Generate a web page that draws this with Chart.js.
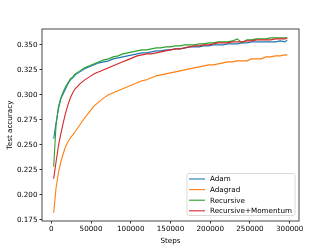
<!DOCTYPE html>
<html>
<head>
<meta charset="utf-8">
<script src="https://cdn.jsdelivr.net/npm/chart.js@4.4.0/dist/chart.umd.min.js"></script>
<style>
  html, body { margin: 0; padding: 0; background: #fff; }
  #wrap { width: 332px; height: 249px; position: relative; }
</style>
</head>
<body>
<div id="wrap"><canvas id="acc-chart" width="332" height="249"></canvas></div>
<script>
// --- data ---
const steps = [3000, 6000, 9000, 12000, 15000, 18000, 21000, 24000, 27000, 30000,
  36000, 42000, 48000, 54000, 60000, 66000, 72000, 78000, 84000, 90000,
  96000, 102000, 108000, 114000, 120000, 126000, 132000, 138000, 144000, 150000,
  156000, 162000, 168000, 174000, 180000, 186000, 192000, 198000, 204000, 210000,
  216000, 222000, 228000, 234000, 240000, 246000, 252000, 258000, 264000, 270000,
  276000, 282000, 288000, 294000, 297000];

const adam = [0.256, 0.272, 0.286, 0.296, 0.301, 0.306, 0.311, 0.315, 0.317, 0.320,
  0.323, 0.326, 0.328, 0.330, 0.332, 0.333, 0.334, 0.336, 0.337, 0.338,
  0.339, 0.340, 0.341, 0.342, 0.342, 0.343, 0.344, 0.344, 0.345, 0.345,
  0.346, 0.346, 0.347, 0.348, 0.348, 0.348, 0.349, 0.349, 0.350, 0.350,
  0.350, 0.351, 0.351, 0.351, 0.352, 0.352, 0.353, 0.353, 0.353, 0.353,
  0.353, 0.353, 0.354, 0.353, 0.355];

const adagrad = [0.182, 0.207, 0.222, 0.233, 0.241, 0.248, 0.253, 0.257, 0.260, 0.263,
  0.270, 0.277, 0.283, 0.289, 0.293, 0.297, 0.300, 0.302, 0.304, 0.306,
  0.308, 0.310, 0.312, 0.314, 0.315, 0.317, 0.319, 0.320, 0.321, 0.322,
  0.323, 0.324, 0.325, 0.326, 0.327, 0.328, 0.329, 0.330, 0.330, 0.331,
  0.332, 0.333, 0.333, 0.334, 0.334, 0.334, 0.336, 0.336, 0.336, 0.338,
  0.338, 0.339, 0.339, 0.340, 0.340];

const recursive = [0.228, 0.270, 0.288, 0.297, 0.303, 0.308, 0.312, 0.316, 0.318, 0.321,
  0.324, 0.327, 0.329, 0.331, 0.333, 0.335, 0.336, 0.338, 0.339, 0.341,
  0.342, 0.343, 0.344, 0.345, 0.345, 0.346, 0.347, 0.347, 0.348, 0.348,
  0.349, 0.349, 0.350, 0.350, 0.350, 0.351, 0.351, 0.352, 0.352, 0.353,
  0.353, 0.353, 0.354, 0.356, 0.352, 0.355, 0.355, 0.356, 0.356, 0.356,
  0.357, 0.357, 0.357, 0.357, 0.357];

const recMomentum = [0.216, 0.233, 0.249, 0.261, 0.272, 0.282, 0.290, 0.297, 0.302, 0.306,
  0.311, 0.315, 0.318, 0.321, 0.323, 0.325, 0.327, 0.329, 0.331, 0.333,
  0.335, 0.337, 0.339, 0.340, 0.341, 0.341, 0.342, 0.343, 0.344, 0.345,
  0.346, 0.346, 0.347, 0.348, 0.349, 0.349, 0.350, 0.350, 0.351, 0.352,
  0.352, 0.352, 0.353, 0.353, 0.353, 0.354, 0.354, 0.355, 0.355, 0.355,
  0.355, 0.356, 0.356, 0.356, 0.357];

const seriesNames = ['Adam', 'Adagrad', 'Recursive', 'Recursive+Momentum'];
const seriesColors = ['#1f77b4', '#ff7f0e', '#2ca02c', '#d62728'];
const yTicks = [0.175, 0.200, 0.225, 0.250, 0.275, 0.300, 0.325, 0.350];
const xTicks = [0, 50000, 100000, 150000, 200000, 250000, 300000];

const FONT = { family: 'DejaVu Sans', size: 7.2 };

function toPoints(arr) {
  return steps.map((s, i) => ({ x: s, y: arr[i] }));
}

// frame round the plot + legend in the lower right
const framePlugin = {
  id: 'frame',
  afterDatasetsDraw(chart) {
    const { ctx, chartArea: a } = chart;
    ctx.save();
    ctx.strokeStyle = '#333';
    ctx.lineWidth = 0.9;
    ctx.strokeRect(a.left, a.top, a.right - a.left, a.bottom - a.top);

    // legend box
    const bx = 187, by = 173.5, bw = 108, bh = 42;
    ctx.fillStyle = 'rgba(255,255,255,0.8)';
    ctx.strokeStyle = '#d0d0d0';
    ctx.lineWidth = 0.8;
    ctx.beginPath();
    ctx.roundRect(bx, by, bw, bh, 2);
    ctx.fill();
    ctx.stroke();
    ctx.font = FONT.size + 'px ' + FONT.family;
    ctx.textBaseline = 'middle';
    ctx.textAlign = 'left';
    chart.data.datasets.forEach((ds, i) => {
      const y = 179 + i * 10.6;
      ctx.strokeStyle = ds.borderColor;
      ctx.lineWidth = 1.1;
      ctx.beginPath();
      ctx.moveTo(189, y);
      ctx.lineTo(205, y);
      ctx.stroke();
      ctx.fillStyle = '#000';
      ctx.fillText(ds.label, 210, y + 0.5);
    });
    ctx.restore();
  }
};

new Chart(document.getElementById('acc-chart').getContext('2d'), {
  type: 'line',
  data: {
    datasets: [adam, adagrad, recursive, recMomentum].map((arr, i) => ({
      label: seriesNames[i],
      data: toPoints(arr),
      borderColor: seriesColors[i],
      backgroundColor: seriesColors[i],
      borderWidth: 1.1,
      pointRadius: 0,
      tension: 0,
      order: 4 - i
    }))
  },
  options: {
    responsive: false,
    animation: false,
    devicePixelRatio: 1,
    layout: { padding: { left: 6, right: 33, top: 29, bottom: 0 } },
    plugins: { legend: { display: false }, tooltip: { enabled: false } },
    scales: {
      x: {
        type: 'linear',
        min: -11700,
        max: 311700,
        afterBuildTicks: axis => { axis.ticks = xTicks.map(v => ({ value: v })); },
        afterFit: axis => { axis.height = 28; },
        ticks: {
          color: '#000', font: FONT, padding: 1, maxRotation: 0,
          callback: v => String(v)
        },
        grid: { drawOnChartArea: false, drawTicks: true, tickLength: 2.5, color: '#333' },
        border: { display: false },
        title: { display: true, text: 'Steps', color: '#000', font: FONT, padding: { top: 0, bottom: 4 } }
      },
      y: {
        min: 0.1737,
        max: 0.3659,
        afterBuildTicks: axis => { axis.ticks = yTicks.map(v => ({ value: v })); },
        afterFit: axis => { axis.width = 36; },
        ticks: {
          color: '#000', font: FONT, padding: 2,
          callback: v => v.toFixed(3)
        },
        grid: { drawOnChartArea: false, drawTicks: true, tickLength: 2.5, color: '#333' },
        border: { display: false },
        title: { display: true, text: 'Test accuracy', color: '#000', font: FONT, padding: { top: 0, bottom: 0 } }
      }
    }
  },
  plugins: [framePlugin]
});
</script>
</body>
</html>
